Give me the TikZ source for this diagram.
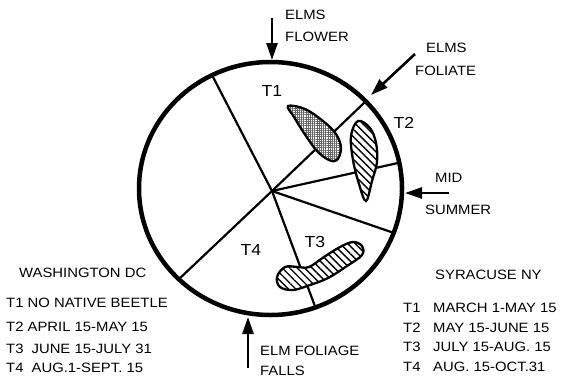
\documentclass[tikz,border=0pt]{standalone}
\usepackage{fontspec}
\setmainfont{Liberation Sans}[FakeStretch=1.1]
\usetikzlibrary{arrows.meta,patterns.meta}
\begin{document}
\begin{tikzpicture}[x=1pt,y=-1pt,
  rimline/.style={line width=4.5pt},
  spoke/.style={line width=2.2pt},
  marker/.style={line width=2.6pt,-{Triangle[length=17pt,width=11pt]}},
  lbl/.style={inner sep=0pt,anchor=west,font=\fontsize{13.5}{15}\selectfont},
  tlbl/.style={inner sep=0pt,font=\fontsize{16}{18}\selectfont},
  blob/.style={line width=2.3pt,preaction={fill=white}},
  stripes/.style={blob,pattern={Lines[angle=-45,distance=5.3pt,line width=1.4pt]}},
  dots/.style={blob,pattern={Hatch[angle=0,distance=2.2pt,line width=0.55pt]},pattern color=black!60}
]
\useasboundingbox (0,0) rectangle (564,383);

% geometry
\coordinate (c) at (270.5,188.5);
\coordinate (hub) at (272,191);
\coordinate (r1) at (213,77);
\coordinate (r2) at (365,102);
\coordinate (r3) at (398,163);
\coordinate (r4) at (394,233);
\coordinate (r5) at (316,309);
\coordinate (r6) at (178,280);

% spokes
\foreach \r in {r1,r2,r3,r4,r5,r6}{\draw[spoke] (hub) -- (\r);}

% shapes
\draw[dots] plot[smooth cycle,tension=0.6] coordinates {
  (288,106) (305,109) (323,121) (336,134) (341,148) (337,160) (329,160) (317,151) (304,133) (294,117)};
\draw[stripes] plot[smooth cycle,tension=0.6] coordinates {
  (358,121) (370,128) (376,143) (377,162) (372,181) (366,201) (359,184) (353,160) (351,136)};
\draw[stripes] plot[smooth cycle,tension=0.6] coordinates {
  (277,277) (285,267) (298,267) (309,267) (324,257) (340,247) (353,242) (362,246) (362,255) (347,266) (328,278) (310,285) (293,290) (280,287)};

% rim
\draw[rimline] (c) ellipse [x radius=131.5pt, y radius=126.5pt];

% sector labels
\node[tlbl] (t1) at (272,91) {T1};
\node[tlbl] (t2) at (404,123) {T2};
\node[tlbl] (t3) at (315,242) {T3};
\node[tlbl] (t4) at (251,250) {T4};

% event arrows
\coordinate (flowerTail) at (272,18);
\coordinate (flowerTip) at (272,60);
\coordinate (foliateTail) at (415,54);
\coordinate (foliateTip) at (371,95);
\coordinate (midTail) at (449,193);
\coordinate (midTip) at (405,193);
\coordinate (fallsTail) at (248,368);
\coordinate (fallsTip) at (248,317);
\draw[marker] (flowerTail) -- (flowerTip);
\draw[marker] (foliateTail) -- (foliateTip);
\draw[marker] (midTail) -- (midTip);
\draw[marker] (fallsTail) -- (fallsTip);

\node[lbl] (fl1) at (285,15) {ELMS};
\node[lbl] (fl2) at (285,37) {FLOWER};
\node[lbl] (fo1) at (426,48) {ELMS};
\node[lbl] (fo2) at (415,71) {FOLIATE};
\node[lbl] (mi1) at (435,178) {MID};
\node[lbl] (mi2) at (425,210) {SUMMER};
\node[lbl] (fa1) at (260,351) {ELM FOLIAGE};
\node[lbl] (fa2) at (260,371) {FALLS};

% Washington block
\node[lbl] (wdc) at (19,273) {WASHINGTON DC};
\node[lbl] (w1) at (6,303) {T1 NO NATIVE BEETLE};
\node[lbl] (w2) at (6,327) {T2 APRIL 15-MAY 15};
\node[lbl] (w3) at (6,349) {T3\hspace{0.6em}JUNE 15-JULY 31};
\node[lbl] (w4) at (6,368) {T4\hspace{0.6em}AUG.1-SEPT. 15};

% Syracuse block
\node[lbl] (sny) at (435,275) {SYRACUSE NY};
\node[lbl] (s1a) at (403,308) {T1};
\node[lbl] (s1b) at (433,308) {MARCH 1-MAY 15};
\node[lbl] (s2a) at (403,328) {T2};
\node[lbl] (s2b) at (433,328) {MAY 15-JUNE 15};
\node[lbl] (s3a) at (403,347) {T3};
\node[lbl] (s3b) at (433,347) {JULY 15-AUG. 15};
\node[lbl] (s4a) at (403,367) {T4};
\node[lbl] (s4b) at (433,367) {AUG. 15-OCT.31};
\end{tikzpicture}
\end{document}
